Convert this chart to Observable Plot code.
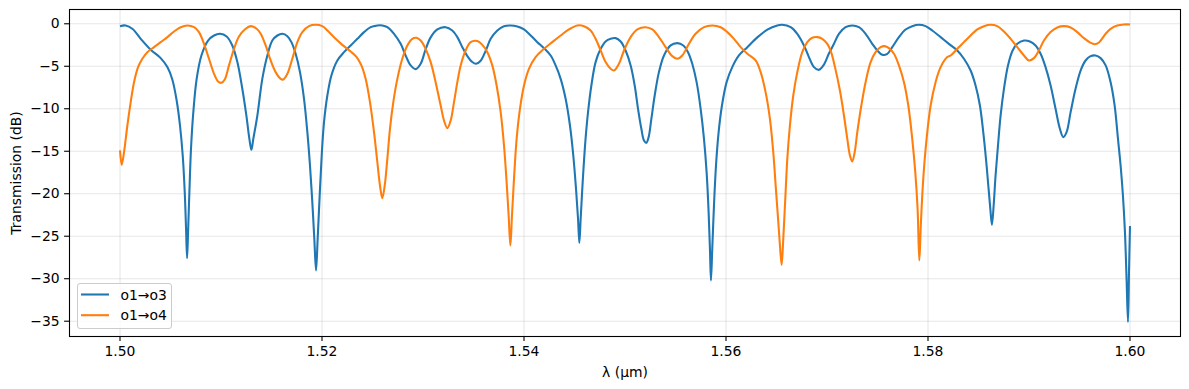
<!DOCTYPE html>
<html>
<head>
<meta charset="utf-8">
<script src="https://cdn.jsdelivr.net/npm/d3@7"></script>
<script src="https://cdn.jsdelivr.net/npm/@observablehq/plot@0.6"></script>
<style>
  html, body { margin: 0; padding: 0; background: #fff; }
  #wrap { position: relative; width: 1189px; height: 389px; font-family: "DejaVu Sans", sans-serif; }
  #legend { position: absolute; left: 76.5px; top: 283px; width: 95px; height: 46px; box-sizing: border-box;
            border: 1px solid #cccccc; border-radius: 3px; background: rgba(255,255,255,0.8); }
  #legend svg { position: absolute; left: 0; top: 0; overflow: visible; }
</style>
</head>
<body>
<div id="wrap"></div>
<script>
// ---------- data ----------
const seriesNames = ["o1→o3", "o1→o4"];
const seriesColors = ["#1f77b4", "#ff7f0e"];

const xTicks = [1.50, 1.52, 1.54, 1.56, 1.58, 1.60];
const yTicks = [0, -5, -10, -15, -20, -25, -30, -35];

// o1→o3 (blue)
const wlO3 = [
  1.50000, 1.50056, 1.50122, 1.50205, 1.50304, 1.50403, 1.50469, 1.50518, 1.50561, 1.50594,
  1.50621, 1.50641, 1.50654, 1.50664, 1.50674, 1.50687, 1.50703, 1.50726, 1.50759, 1.50806,
  1.50872, 1.50931, 1.50990, 1.51056, 1.51112, 1.51162, 1.51211, 1.51251, 1.51281, 1.51301,
  1.51320, 1.51360, 1.51409, 1.51459, 1.51508, 1.51558, 1.51607, 1.51657, 1.51697, 1.51739,
  1.51782, 1.51822, 1.51855, 1.51881, 1.51904, 1.51924, 1.51941, 1.51957, 1.51977, 1.51997,
  1.52020, 1.52053, 1.52093, 1.52152, 1.52218, 1.52284, 1.52350, 1.52416, 1.52482, 1.52548,
  1.52597, 1.52647, 1.52713, 1.52779, 1.52828, 1.52878, 1.52927, 1.52977, 1.53026, 1.53076,
  1.53142, 1.53224, 1.53290, 1.53340, 1.53389, 1.53439, 1.53488, 1.53525, 1.53571, 1.53620,
  1.53670, 1.53736, 1.53802, 1.53868, 1.53934, 1.54000, 1.54066, 1.54132, 1.54198, 1.54264,
  1.54313, 1.54363, 1.54412, 1.54455, 1.54488, 1.54515, 1.54535, 1.54548, 1.54561, 1.54581,
  1.54607, 1.54634, 1.54667, 1.54709, 1.54759, 1.54808, 1.54858, 1.54907, 1.54957, 1.55006,
  1.55056, 1.55096, 1.55129, 1.55162, 1.55188, 1.55211, 1.55234, 1.55261, 1.55294, 1.55336,
  1.55386, 1.55452, 1.55518, 1.55577, 1.55624, 1.55666, 1.55709, 1.55749, 1.55782, 1.55808,
  1.55828, 1.55841, 1.55851, 1.55864, 1.55881, 1.55901, 1.55927, 1.55960, 1.56006, 1.56062,
  1.56128, 1.56211, 1.56310, 1.56409, 1.56508, 1.56557, 1.56640, 1.56706, 1.56772, 1.56821,
  1.56871, 1.56920, 1.56970, 1.57019, 1.57069, 1.57118, 1.57184, 1.57250, 1.57316, 1.57382,
  1.57448, 1.57498, 1.57547, 1.57597, 1.57646, 1.57712, 1.57778, 1.57844, 1.57910, 1.57976,
  1.58042, 1.58125, 1.58207, 1.58290, 1.58356, 1.58422, 1.58471, 1.58514, 1.58547, 1.58574,
  1.58597, 1.58617, 1.58633, 1.58650, 1.58669, 1.58693, 1.58719, 1.58752, 1.58792, 1.58838,
  1.58884, 1.58950, 1.59009, 1.59065, 1.59115, 1.59164, 1.59214, 1.59263, 1.59306, 1.59339,
  1.59372, 1.59412, 1.59461, 1.59511, 1.59560, 1.59610, 1.59659, 1.59709, 1.59759, 1.59808,
  1.59848, 1.59881, 1.59907, 1.59930, 1.59950, 1.59966, 1.59980, 1.59990, 1.60000
];
const tO3 = [
  -0.28, -0.20, -0.59, -1.77, -3.06, -4.04, -5.10, -6.56, -9.03, -11.97,
  -15.50, -19.82, -24.13, -27.58, -24.52, -19.82, -14.71, -10.40, -6.48, -3.73,
  -1.97, -1.38, -1.18, -1.49, -2.55, -4.51, -7.65, -10.79, -13.54, -14.83,
  -13.54, -10.79, -6.48, -3.73, -1.97, -1.38, -1.18, -1.46, -2.16, -3.53,
  -5.69, -8.83, -12.75, -16.68, -20.99, -25.31, -29.04, -25.31, -20.21, -15.50,
  -11.58, -8.44, -6.08, -4.32, -3.34, -2.55, -1.77, -0.98, -0.40, -0.20,
  -0.20, -0.40, -1.18, -2.36, -3.73, -4.90, -5.34, -4.70, -3.00, -1.60,
  -0.67, -0.40, -0.79, -1.57, -2.75, -3.80, -4.50, -4.71, -4.35, -3.20,
  -1.77, -0.79, -0.28, -0.20, -0.32, -0.67, -1.38, -2.16, -2.87, -3.73,
  -4.90, -6.48, -8.83, -11.97, -15.50, -19.42, -22.95, -25.78, -22.95, -18.64,
  -13.93, -10.40, -7.26, -4.51, -2.95, -2.08, -1.77, -1.69, -2.08, -3.14,
  -4.90, -7.26, -10.01, -12.36, -13.74, -14.01, -13.34, -11.19, -8.44, -5.69,
  -3.73, -2.55, -2.28, -2.55, -3.34, -4.71, -6.87, -10.01, -13.54, -17.46,
  -22.17, -26.49, -30.21, -26.49, -21.38, -16.68, -12.75, -9.62, -6.87, -5.10,
  -3.73, -2.75, -1.60, -0.70, -0.20, -0.12, -0.40, -1.18, -2.55, -3.92,
  -5.10, -5.42, -4.80, -3.50, -2.36, -1.18, -0.40, -0.20, -0.40, -1.18,
  -2.36, -3.14, -3.65, -3.53, -2.75, -1.57, -0.67, -0.28, -0.12, -0.28,
  -0.79, -1.57, -2.36, -3.14, -4.12, -5.50, -7.26, -9.62, -12.75, -15.89,
  -19.03, -21.78, -23.66, -21.38, -17.85, -14.32, -10.79, -7.65, -4.90, -3.14,
  -2.36, -1.97, -2.08, -2.55, -3.53, -5.10, -7.26, -10.01, -12.36, -13.34,
  -12.75, -10.40, -7.65, -5.50, -4.32, -3.81, -3.73, -4.04, -4.90, -6.87,
  -9.62, -13.54, -16.68, -20.21, -24.52, -30.01, -35.10, -29.23, -23.80
];

// o1→o4 (orange)
const wlO4 = [
  1.50000, 1.50017, 1.50040, 1.50073, 1.50106, 1.50139, 1.50179, 1.50221, 1.50271, 1.50337,
  1.50403, 1.50469, 1.50535, 1.50601, 1.50667, 1.50733, 1.50782, 1.50832, 1.50881, 1.50931,
  1.50971, 1.51004, 1.51037, 1.51079, 1.51129, 1.51178, 1.51244, 1.51294, 1.51353, 1.51393,
  1.51442, 1.51492, 1.51541, 1.51591, 1.51617, 1.51657, 1.51706, 1.51756, 1.51805, 1.51871,
  1.51937, 1.52003, 1.52069, 1.52135, 1.52201, 1.52284, 1.52343, 1.52390, 1.52432, 1.52475,
  1.52515, 1.52548, 1.52574, 1.52597, 1.52621, 1.52647, 1.52673, 1.52706, 1.52746, 1.52795,
  1.52845, 1.52894, 1.52934, 1.52977, 1.53026, 1.53076, 1.53125, 1.53175, 1.53208, 1.53241,
  1.53274, 1.53307, 1.53340, 1.53373, 1.53422, 1.53472, 1.53538, 1.53587, 1.53637, 1.53686,
  1.53729, 1.53769, 1.53802, 1.53828, 1.53848, 1.53865, 1.53881, 1.53901, 1.53927, 1.53960,
  1.54000, 1.54049, 1.54115, 1.54198, 1.54280, 1.54363, 1.54445, 1.54528, 1.54594, 1.54660,
  1.54709, 1.54759, 1.54808, 1.54858, 1.54891, 1.54940, 1.54990, 1.55056, 1.55122, 1.55204,
  1.55270, 1.55336, 1.55402, 1.55468, 1.55518, 1.55567, 1.55633, 1.55699, 1.55782, 1.55864,
  1.55947, 1.56013, 1.56079, 1.56145, 1.56211, 1.56293, 1.56343, 1.56392, 1.56435, 1.56468,
  1.56494, 1.56518, 1.56534, 1.56551, 1.56567, 1.56587, 1.56607, 1.56633, 1.56666, 1.56706,
  1.56755, 1.56805, 1.56854, 1.56904, 1.56953, 1.57003, 1.57040, 1.57079, 1.57128, 1.57168,
  1.57201, 1.57227, 1.57250, 1.57274, 1.57300, 1.57340, 1.57382, 1.57432, 1.57481, 1.57531,
  1.57571, 1.57613, 1.57663, 1.57712, 1.57762, 1.57805, 1.57844, 1.57874, 1.57897, 1.57914,
  1.57930, 1.57953, 1.57986, 1.58026, 1.58075, 1.58125, 1.58191, 1.58224, 1.58290, 1.58356,
  1.58422, 1.58488, 1.58554, 1.58620, 1.58686, 1.58752, 1.58818, 1.58884, 1.58950, 1.59000,
  1.59049, 1.59098, 1.59148, 1.59214, 1.59280, 1.59346, 1.59412, 1.59478, 1.59544, 1.59610,
  1.59650, 1.59693, 1.59759, 1.59808, 1.59874, 1.59940, 1.60000
];
const tO4 = [
  -14.90, -16.60, -15.11, -11.97, -9.22, -6.87, -5.10, -4.12, -3.34, -2.75,
  -2.16, -1.57, -0.91, -0.40, -0.20, -0.40, -0.98, -2.36, -4.12, -5.89,
  -6.79, -6.95, -6.56, -4.90, -2.95, -1.50, -0.59, -0.28, -0.59, -1.18,
  -2.55, -4.32, -5.69, -6.48, -6.56, -5.89, -4.12, -2.16, -0.98, -0.28,
  -0.12, -0.28, -0.98, -1.77, -2.48, -3.26, -3.92, -4.90, -6.48, -9.22,
  -12.75, -16.29, -19.03, -20.52, -19.03, -15.89, -12.36, -9.22, -6.48, -4.12,
  -2.55, -1.77, -1.65, -1.97, -2.95, -4.51, -6.87, -9.62, -11.38, -12.28,
  -11.38, -9.22, -6.87, -4.90, -3.14, -2.16, -2.04, -2.48, -3.34, -4.90,
  -7.26, -10.40, -14.32, -18.64, -22.56, -26.09, -22.56, -18.25, -13.54, -10.01,
  -7.26, -5.30, -3.92, -2.95, -2.16, -1.38, -0.67, -0.20, -0.28, -0.79,
  -1.77, -3.14, -4.51, -5.30, -5.50, -4.71, -3.14, -1.57, -0.67, -0.40,
  -0.67, -1.57, -2.75, -3.81, -4.12, -3.73, -2.36, -1.18, -0.40, -0.20,
  -0.40, -0.98, -1.77, -2.75, -3.53, -4.32, -5.69, -8.04, -11.19, -15.11,
  -19.42, -23.35, -26.09, -28.37, -25.31, -20.60, -15.89, -11.97, -8.44, -5.69,
  -3.34, -2.16, -1.65, -1.57, -1.77, -2.36, -3.30, -5.10, -7.85, -10.79,
  -13.54, -15.50, -16.21, -15.11, -12.75, -9.62, -6.87, -4.51, -3.34, -2.75,
  -2.63, -2.87, -3.53, -4.90, -6.87, -9.62, -13.54, -17.46, -21.78, -27.86,
  -23.35, -18.25, -13.54, -9.62, -6.87, -5.10, -3.92, -3.73, -2.95, -2.16,
  -1.38, -0.67, -0.28, -0.12, -0.28, -0.91, -1.77, -2.75, -3.73, -4.32,
  -4.04, -3.14, -1.97, -0.98, -0.44, -0.28, -0.44, -0.98, -1.69, -2.24,
  -2.40, -2.20, -1.18, -0.59, -0.20, -0.08, -0.08
];

// ---------- chart ----------
const rows = [
  ...wlO3.map((w, i) => ({wl: w, t: tO3[i], s: seriesNames[0]})),
  ...wlO4.map((w, i) => ({wl: w, t: tO4[i], s: seriesNames[1]}))
];

const chart = Plot.plot({
  width: 1189,
  height: 389,
  marginLeft: 69,
  marginRight: 9,
  marginTop: 9,
  marginBottom: 53,
  style: {fontFamily: "DejaVu Sans, sans-serif", fontSize: "13.9px", background: "#fff", color: "#000"},
  x: {domain: [1.495, 1.605]},
  y: {domain: [-36.80, 1.68]},
  color: {domain: seriesNames, range: seriesColors},
  marks: [
    Plot.gridX(xTicks, {stroke: "#b0b0b0", strokeOpacity: 0.3, strokeWidth: 1.1}),
    Plot.gridY(yTicks, {stroke: "#b0b0b0", strokeOpacity: 0.3, strokeWidth: 1.1}),
    Plot.line(rows, {x: "wl", y: "t", z: "s", stroke: "s", strokeWidth: 2.08, curve: "catmull-rom",
      strokeLinejoin: "round", strokeLinecap: "butt"}),
    Plot.frame({stroke: "#000", strokeWidth: 1.1}),
    Plot.axisX(xTicks, {tickFormat: d3.format(".2f"), tickSize: 4.9, tickPadding: 4.9, strokeWidth: 1.1,
      label: "λ (µm)", labelAnchor: "center", labelOffset: 40, labelArrow: "none"}),
    Plot.axisY(yTicks, {tickFormat: d3.format("d"), tickSize: 4.9, tickPadding: 4.9, strokeWidth: 1.1,
      label: "Transmission (dB)", labelAnchor: "center", labelOffset: 58, labelArrow: "none"})
  ]
});

const wrap = document.getElementById("wrap");
wrap.appendChild(chart);

// legend (matplotlib-style, lower left inside the axes)
const legend = document.createElement("div");
legend.id = "legend";
const ns = "http://www.w3.org/2000/svg";
const lsvg = document.createElementNS(ns, "svg");
lsvg.setAttribute("width", 95);
lsvg.setAttribute("height", 46);
seriesNames.forEach((name, i) => {
  const cy = 10.5 + i * 20.7;
  const ln = document.createElementNS(ns, "line");
  ln.setAttribute("x1", 3); ln.setAttribute("x2", 31);
  ln.setAttribute("y1", cy); ln.setAttribute("y2", cy);
  ln.setAttribute("stroke", seriesColors[i]);
  ln.setAttribute("stroke-width", 2.08);
  lsvg.appendChild(ln);
  const tx = document.createElementNS(ns, "text");
  tx.setAttribute("x", 42.5);
  tx.setAttribute("y", cy + 5);
  tx.setAttribute("font-family", "DejaVu Sans, sans-serif");
  tx.setAttribute("font-size", "13.9px");
  tx.setAttribute("fill", "#000");
  tx.textContent = name;
  lsvg.appendChild(tx);
});
legend.appendChild(lsvg);
wrap.appendChild(legend);
</script>
</body>
</html>
